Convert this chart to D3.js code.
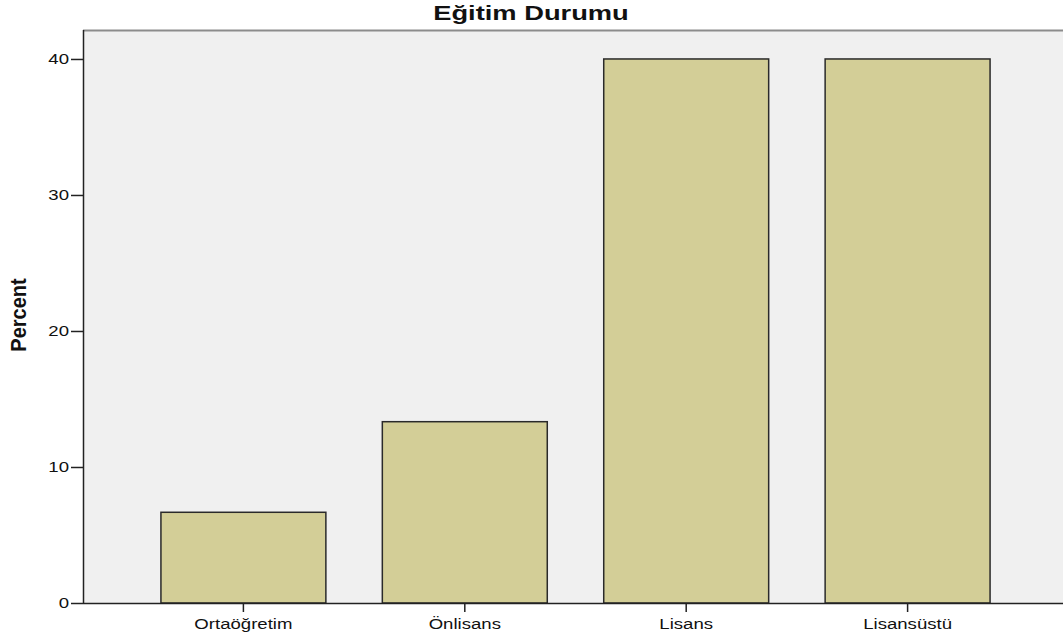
<!DOCTYPE html>
<html>
<head>
<meta charset="utf-8">
<script src="https://cdn.jsdelivr.net/npm/d3@7/dist/d3.min.js"></script>
<style>
  body { margin: 0; background: #fff; }
  text { font-family: "Liberation Sans", Arial, sans-serif; fill: #111; }
</style>
</head>
<body>
<div id="chart"></div>
<script>
const categories = ["Ortaöğretim", "Önlisans", "Lisans", "Lisansüstü"];
const percents = [6.67, 13.33, 40, 40];
const yTicks = [0, 10, 20, 30, 40];
const chartTitle = "Eğitim Durumu";
const yTitle = "Percent";

const width = 1063,
      height = 642;
const plot = { left: 83, top: 30, right: 1068, bottom: 603 };
const stretch = 1.24; // the source text is drawn a bit wide

const svg = d3.select("#chart")
  .append("svg")
  .attr("width", width)
  .attr("height", height);

let x = d3.scaleBand()
  .domain(categories)
  .range([plot.left, plot.right])
  .paddingInner(0.255)
  .paddingOuter(0.352);

let y = d3.scaleLinear()
  .domain([0, 42.13])
  .range([plot.bottom, plot.top]);

// plot background
svg.append("rect")
  .attr("x", plot.left)
  .attr("y", plot.top)
  .attr("width", width - plot.left)
  .attr("height", plot.bottom - plot.top)
  .style("fill", "#f0f0f0");

svg.append("line")
  .attr("x1", plot.left)
  .attr("x2", width)
  .attr("y1", plot.top + 0.5)
  .attr("y2", plot.top + 0.5)
  .style("stroke", "#8c8c8c")
  .style("stroke-width", 2);

// bars
svg.selectAll(".bar")
  .data(percents)
  .enter()
  .append("rect")
  .attr("class", "bar")
  .attr("x", (d, i) => x(categories[i]))
  .attr("y", (d) => y(d))
  .attr("width", x.bandwidth())
  .attr("height", (d) => y(0) - y(d))
  .style("fill", "#d3ce97")
  .style("stroke", "#2a2a2a")
  .style("stroke-width", 1.5);

// axes
const yAxis = d3.axisLeft(y).tickValues(yTicks).tickSize(12).tickPadding(2).tickFormat(d3.format("d"));
const xAxis = d3.axisBottom(x).tickSize(9).tickPadding(5).tickSizeOuter(0);

const gy = svg.append("g")
  .attr("transform", "translate(" + plot.left + ",0)")
  .call(yAxis);
gy.select(".domain").attr("d", "M0.5," + plot.top + "V" + (plot.bottom + 0.5))
  .style("stroke", "#222").style("stroke-width", 1.5);
gy.selectAll(".tick line").style("stroke", "#222").style("stroke-width", 1.5);
gy.selectAll(".tick text")
  .attr("x", -14 / stretch)
  .attr("transform", "scale(" + stretch + ",1)")
  .style("font-size", "15px")
  .style("fill", "#111");

const gx = svg.append("g")
  .attr("transform", "translate(0," + plot.bottom + ")")
  .call(xAxis);
gx.select(".domain").attr("d", "M" + plot.left + ",0.5H" + width)
  .style("stroke", "#222").style("stroke-width", 1.5);
gx.selectAll(".tick line").style("stroke", "#222").style("stroke-width", 1.5);
gx.selectAll(".tick text")
  .attr("transform", "scale(" + stretch + ",1)")
  .attr("y", 15)
  .style("font-size", "15px")
  .style("fill", "#111");

// title text
svg.append("text")
  .text(chartTitle)
  .attr("text-anchor", "middle")
  .attr("transform", "translate(531,20) scale(1.3,1)")
  .style("font-size", "21px")
  .style("font-weight", "bold");

svg.append("text")
  .text(yTitle)
  .attr("text-anchor", "middle")
  .attr("transform", "translate(26,315) rotate(-90) scale(1,1.1)")
  .style("font-size", "20px")
  .style("font-weight", "bold");
</script>
</body>
</html>
